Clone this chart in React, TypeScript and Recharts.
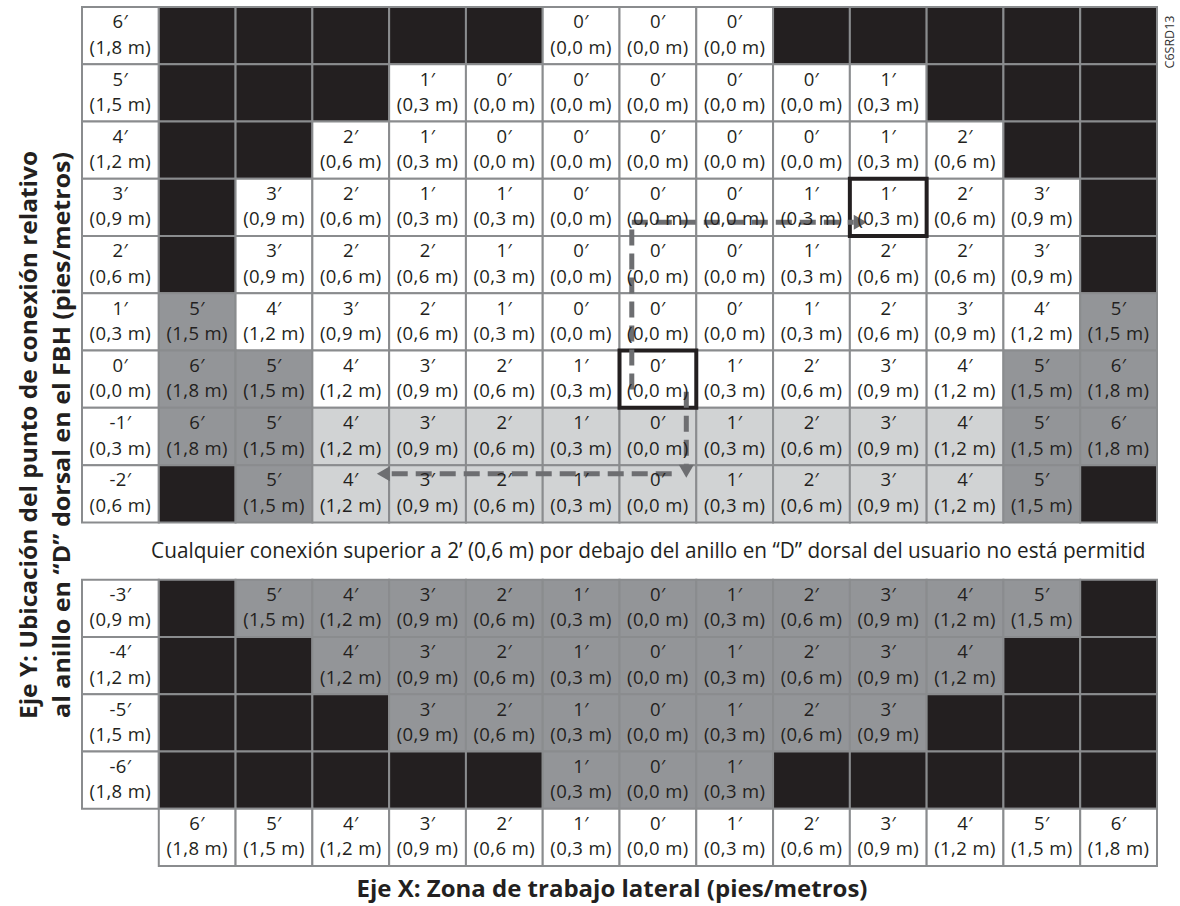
import React from "react";
import { ScatterChart, Scatter, XAxis, YAxis, ReferenceArea, ReferenceLine } from "recharts";

const FONT = "'Open Sans', 'DejaVu Sans', sans-serif";
const INK = "#231f20";
const GRID = "#8a8c8e";
const ARROW = "#6d6e71";

// lateral work zone, feet (left to right)
const lateralFeet = [-6, -5, -4, -3, -2, -1, 0, 1, 2, 3, 4, 5, 6];

// connection point height relative to dorsal D-ring, feet
const upperRows = [6, 5, 4, 3, 2, 1, 0, -1, -2];
const lowerRows = [-3, -4, -5, -6];

// clearance value per cell (feet), null = not allowed
const row6 = [null, null, null, null, null, 0, 0, 0, null, null, null, null, null];
const row5 = [null, null, null, 1, 0, 0, 0, 0, 0, 1, null, null, null];
const row4 = [null, null, 2, 1, 0, 0, 0, 0, 0, 1, 2, null, null];
const row3 = [null, 3, 2, 1, 1, 0, 0, 0, 1, 1, 2, 3, null];
const row2 = [null, 3, 2, 2, 1, 0, 0, 0, 1, 2, 2, 3, null];
const row1 = [5, 4, 3, 2, 1, 0, 0, 0, 1, 2, 3, 4, 5];
const row0 = [6, 5, 4, 3, 2, 1, 0, 1, 2, 3, 4, 5, 6];
const rowM1 = [6, 5, 4, 3, 2, 1, 0, 1, 2, 3, 4, 5, 6];
const rowM2 = [null, 5, 4, 3, 2, 1, 0, 1, 2, 3, 4, 5, null];
const rowM3 = [null, 5, 4, 3, 2, 1, 0, 1, 2, 3, 4, 5, null];
const rowM4 = [null, null, 4, 3, 2, 1, 0, 1, 2, 3, 4, null, null];
const rowM5 = [null, null, null, 3, 2, 1, 0, 1, 2, 3, null, null, null];
const rowM6 = [null, null, null, null, null, 1, 0, 1, null, null, null, null, null];

// zone per cell: x = blocked, o = ok, l = below ring, c = caution
const zone6 = ["x", "x", "x", "x", "x", "o", "o", "o", "x", "x", "x", "x", "x"];
const zone5 = ["x", "x", "x", "o", "o", "o", "o", "o", "o", "o", "x", "x", "x"];
const zone4 = ["x", "x", "o", "o", "o", "o", "o", "o", "o", "o", "o", "x", "x"];
const zone3 = ["x", "o", "o", "o", "o", "o", "o", "o", "o", "o", "o", "o", "x"];
const zone2 = ["x", "o", "o", "o", "o", "o", "o", "o", "o", "o", "o", "o", "x"];
const zone1 = ["c", "o", "o", "o", "o", "o", "o", "o", "o", "o", "o", "o", "c"];
const zone0 = ["c", "c", "o", "o", "o", "o", "o", "o", "o", "o", "o", "c", "c"];
const zoneM1 = ["c", "c", "l", "l", "l", "l", "l", "l", "l", "l", "l", "c", "c"];
const zoneM2 = ["x", "c", "l", "l", "l", "l", "l", "l", "l", "l", "l", "c", "x"];
const zoneM3 = ["x", "c", "c", "c", "c", "c", "c", "c", "c", "c", "c", "c", "x"];
const zoneM4 = ["x", "x", "c", "c", "c", "c", "c", "c", "c", "c", "c", "x", "x"];
const zoneM5 = ["x", "x", "x", "c", "c", "c", "c", "c", "c", "c", "x", "x", "x"];
const zoneM6 = ["x", "x", "x", "x", "x", "c", "c", "c", "x", "x", "x", "x", "x"];

const upperValues = [row6, row5, row4, row3, row2, row1, row0, rowM1, rowM2];
const upperZones = [zone6, zone5, zone4, zone3, zone2, zone1, zone0, zoneM1, zoneM2];
const lowerValues = [rowM3, rowM4, rowM5, rowM6];
const lowerZones = [zoneM3, zoneM4, zoneM5, zoneM6];

// highlighted cells [lateral ft, height ft]
const markedCells = [[3, 3], [0, 0]];

// dashed arrows, in (lateral ft, row slot) units
const arrowUp = [{ x: -0.34, slot: 6.68 }, { x: -0.34, slot: 3.76 }];
const arrowRight = [{ x: -0.34, slot: 3.76 }, { x: 2.72, slot: 3.76 }];
const arrowDown = [{ x: 0.37, slot: 6.72 }, { x: 0.37, slot: 8.22 }];
const arrowLeft = [{ x: 0.18, slot: 8.15 }, { x: -3.66, slot: 8.15 }];

const FILL: Record<string, string> = {
  x: INK,
  o: "#ffffff",
  l: "#d1d3d4",
  c: "#939598",
};

const feet = (v: number) => `${v}′`;
const meters = (v: number) => `(${(Math.abs(v) * 0.3).toFixed(1).replace(".", ",")} m)`;

type CellPt = { x: number; slot: number; ft: number | null; zone: string };

const cells: CellPt[] = [];
const addBlock = (rows: number[], values: (number | null)[][], zones: string[][], startSlot: number) => {
  rows.forEach((h, r) => {
    const slot = startSlot + r;
    cells.push({ x: -7, slot, ft: h, zone: "o" });
    lateralFeet.forEach((lx, i) => {
      cells.push({ x: lx, slot, ft: values[r][i], zone: zones[r][i] });
    });
  });
};
addBlock(upperRows, upperValues, upperZones, 0);
addBlock(lowerRows, lowerValues, lowerZones, 10);
lateralFeet.forEach((lx) => cells.push({ x: lx, slot: 14, ft: Math.abs(lx), zone: "o" }));

const textPoints = cells
  .filter((c) => c.ft !== null)
  .map((c) => ({ x: c.x, slot: c.slot + 0.5, ft: c.ft }));

function CellText(props: any) {
  const { cx, cy, payload } = props;
  if (payload == null || payload.ft == null) return <g />;
  return (
    <text x={cx} y={cy - 7.3} textAnchor="middle" fontFamily={FONT} fontSize={18.5} letterSpacing={0.4} fill={INK}>
      <tspan x={cx}>{feet(payload.ft)}</tspan>
      <tspan x={cx} dy={25.3}>{meters(payload.ft)}</tspan>
    </text>
  );
}

const dashedArrow = (withHead: boolean) => (props: any) => {
  const { x1, y1, x2, y2 } = props;
  const len = Math.hypot(x2 - x1, y2 - y1) || 1;
  const ux = (x2 - x1) / len;
  const uy = (y2 - y1) / len;
  const headLen = withHead ? 13 : 0;
  const ex = x2 - ux * headLen;
  const ey = y2 - uy * headLen;
  const px = -uy * 7.5;
  const py = ux * 7.5;
  return (
    <g>
      <line x1={x1} y1={y1} x2={ex} y2={ey} stroke={ARROW} strokeWidth={5} strokeDasharray="16 8" />
      {withHead && (
        <polygon points={`${x2},${y2} ${ex + px},${ey + py} ${ex - px},${ey - py}`} fill={ARROW} />
      )}
    </g>
  );
};

const toSegment = (path: { x: number; slot: number }[]) => path.map((p) => ({ x: p.x, y: p.slot }));

export default function App() {
  return (
    <div style={{ position: "absolute", left: 0, top: 0, width: 1180, height: 906, background: "#fff" }}>
      <ScatterChart width={1180} height={906} margin={{ top: 7, right: 23, bottom: 40, left: 82 }}>
        <XAxis type="number" dataKey="x" domain={[-7.5, 6.5]} allowDataOverflow hide />
        <YAxis type="number" dataKey="slot" domain={[0, 15]} reversed allowDataOverflow hide />
        {cells.map((c, i) => (
          <ReferenceArea
            key={`c${i}`}
            x1={c.x - 0.5}
            x2={c.x + 0.5}
            y1={c.slot}
            y2={c.slot + 1}
            fill={c.ft === null ? FILL.x : FILL[c.zone]}
            fillOpacity={1}
            stroke={GRID}
            strokeWidth={2}
          />
        ))}
        <ReferenceArea
          x1={-6.6}
          x2={6.35}
          y1={9}
          y2={10}
          fill="none"
          stroke="none"
          label={(p: any) => {
            const vb = p.viewBox;
            return (
              <text
                x={vb.x}
                y={vb.y + vb.height / 2 + 7}
                fontFamily={FONT}
                fontSize={21}
                fill={INK}
                textLength={vb.width}
                lengthAdjust="spacingAndGlyphs"
              >
                Cualquier conexión superior a 2’ (0,6 m) por debajo del anillo en “D” dorsal del usuario no está permitid
              </text>
            );
          }}
        />
        <Scatter data={textPoints} shape={CellText} isAnimationActive={false} />
        {markedCells.map(([lx, h], i) => {
          const slot = h >= -2 ? 6 - h : 10 + (-3 - h);
          return (
            <ReferenceArea
              key={`m${i}`}
              x1={lx - 0.5}
              x2={lx + 0.5}
              y1={slot}
              y2={slot + 1}
              fill="none"
              stroke={INK}
              strokeWidth={4}
            />
          );
        })}
        <ReferenceLine segment={toSegment(arrowUp)} shape={dashedArrow(false)} />
        <ReferenceLine segment={toSegment(arrowRight)} shape={dashedArrow(true)} />
        <ReferenceLine segment={toSegment(arrowDown)} shape={dashedArrow(true)} />
        <ReferenceLine segment={toSegment(arrowLeft)} shape={dashedArrow(true)} />
      </ScatterChart>
      <svg width={1180} height={906} style={{ position: "absolute", left: 0, top: 0, pointerEvents: "none" }}>
        <g transform="translate(37,435) rotate(-90)">
          <text textAnchor="middle" x={0} y={0} fontFamily={FONT} fontWeight={700} fontSize={24} fill={INK}
            textLength={568} lengthAdjust="spacingAndGlyphs">
            Eje Y: Ubicación del punto de conexión relativo
          </text>
        </g>
        <g transform="translate(70,435) rotate(-90)">
          <text textAnchor="middle" x={0} y={0} fontFamily={FONT} fontWeight={700} fontSize={24} fill={INK}
            textLength={566} lengthAdjust="spacingAndGlyphs">
            al anillo en “D” dorsal en el FBH (pies/metros)
          </text>
        </g>
        <text x={612} y={897} textAnchor="middle" fontFamily={FONT} fontWeight={700} fontSize={24} fill={INK}
          textLength={511} lengthAdjust="spacingAndGlyphs">
          Eje X: Zona de trabajo lateral (pies/metros)
        </text>
        <g transform="translate(1174,42) rotate(-90)">
          <text textAnchor="middle" x={0} y={0} fontFamily={FONT} fontSize={13} fill="#333"
            textLength={53} lengthAdjust="spacingAndGlyphs">
            C6SRD13
          </text>
        </g>
      </svg>
    </div>
  );
}
